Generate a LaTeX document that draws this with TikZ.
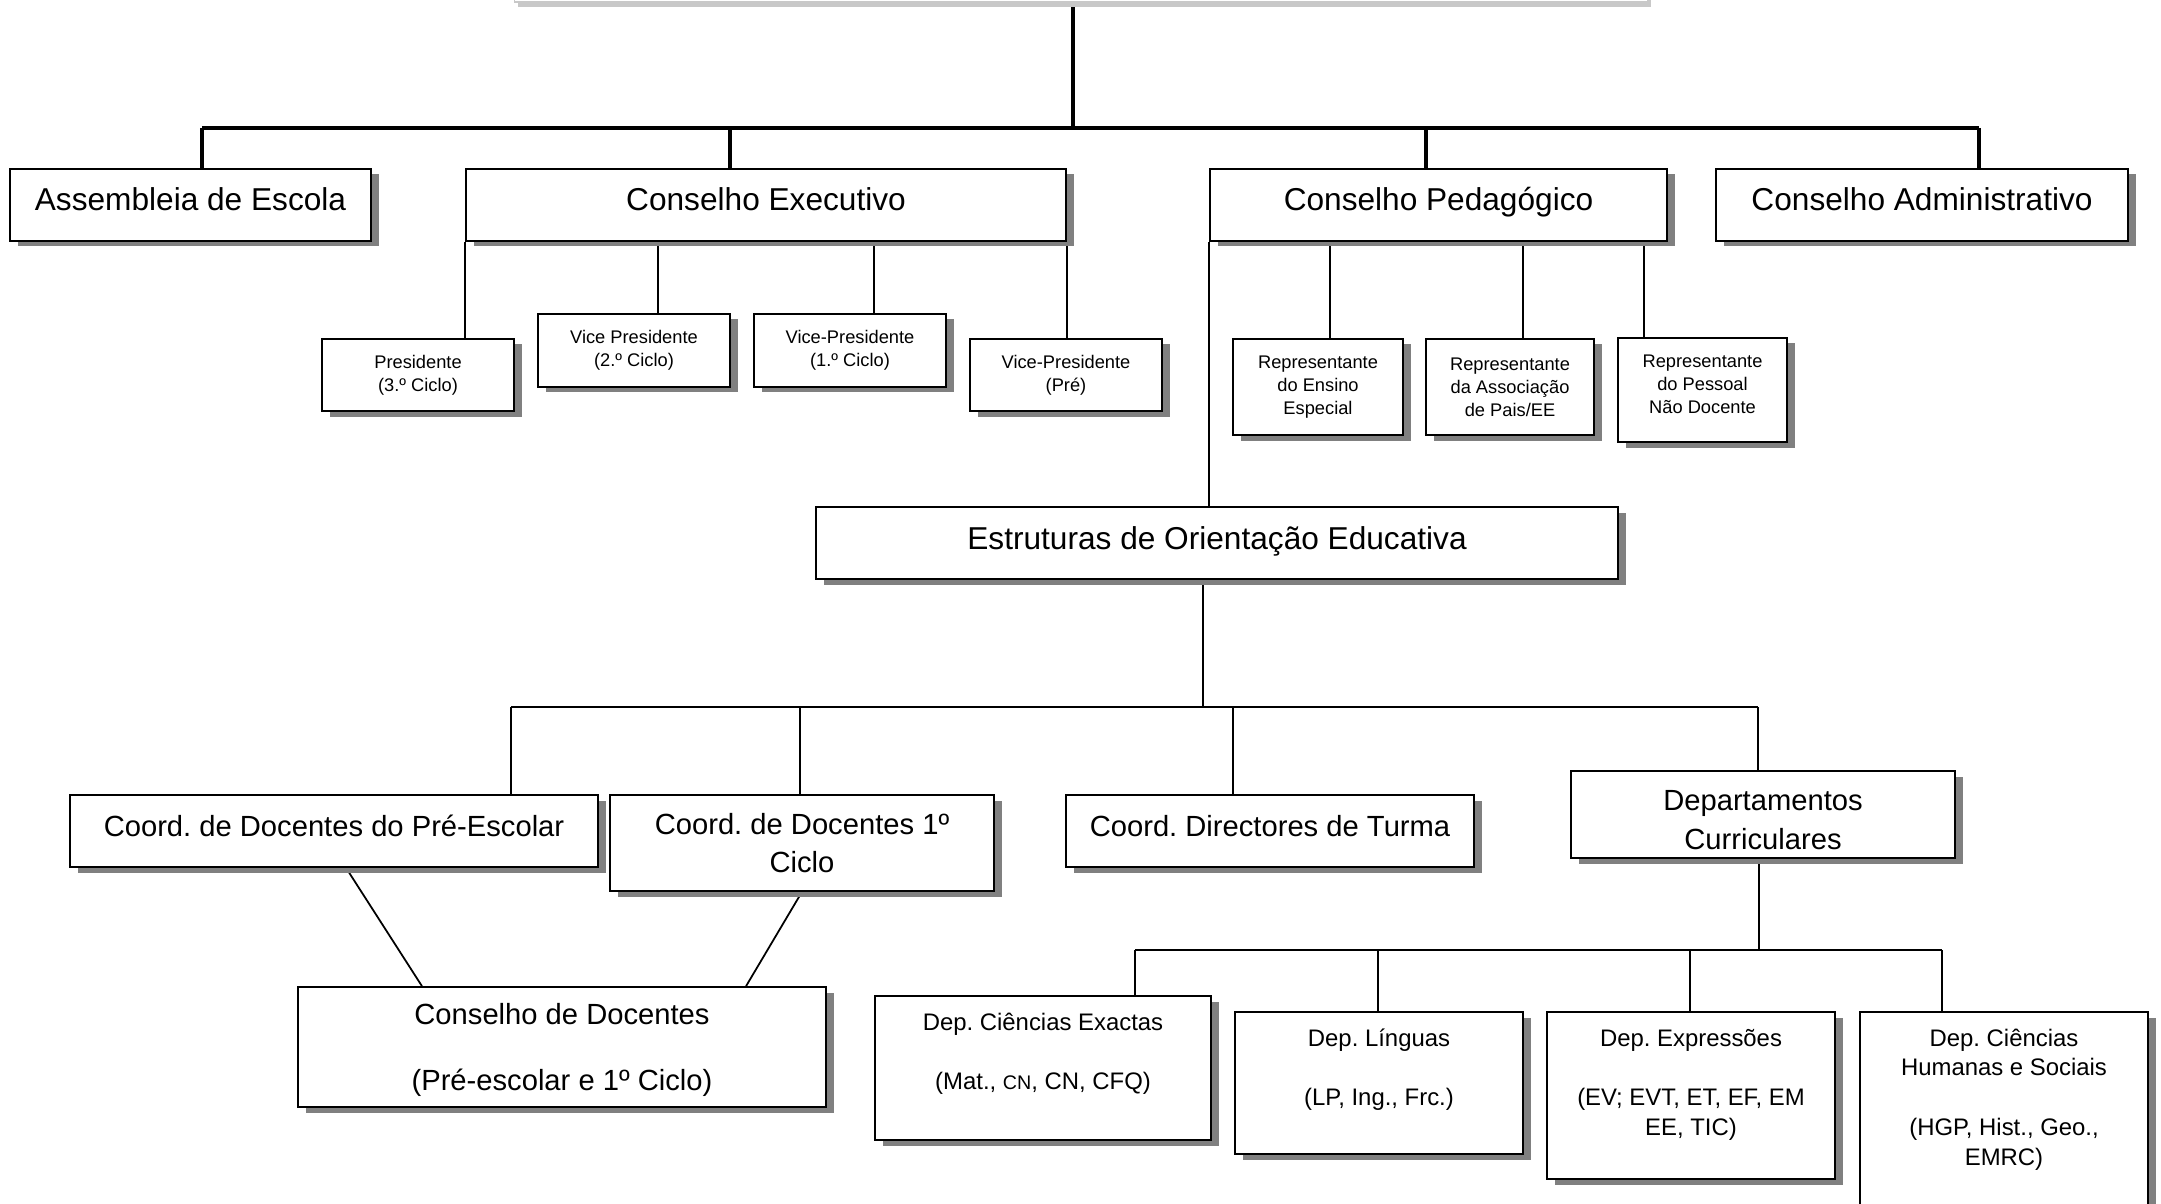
\documentclass[tikz,border=0pt]{standalone}
\usepackage{fontspec}
\setmainfont{Liberation Sans}
\usetikzlibrary{shadows,backgrounds}
\definecolor{shadowgray}{RGB}{128,128,128}
\definecolor{fadegray}{RGB}{200,200,200}
\frenchspacing
\newcommand{\orgbig}{\fontsize{9}{11}\selectfont}
\newcommand{\orgmid}{\fontsize{8.3}{11}\selectfont}
\newcommand{\orgdep}{\fontsize{6.8}{8.5}\selectfont}
\newcommand{\orgsmall}{\fontsize{5.2}{6.5}\selectfont}
\newcommand{\deptext}[3]{\parbox[c][#2][t]{#1}{\centering\rule{0pt}{3.4mm}#3}}

\begin{document}
\begin{tikzpicture}[x=0.1mm, y=-0.1mm,
    box/.style={draw, fill=white, line width=0.45pt, inner sep=0pt,
        drop shadow={shadow xshift=0.8mm, shadow yshift=-0.55mm, fill=shadowgray, opacity=1}},
    topbox/.style={box, font=\orgbig, minimum height=7.2mm, text height=2.4mm, text depth=1.2mm},
    midline/.style={box, font=\orgmid, minimum height=7.2mm, text height=2.2mm, text depth=1.1mm},
    midbox/.style={box, font=\orgmid, align=center},
    smallbox/.style={box, font=\orgsmall, align=center, minimum width=19.2mm},
    repbox/.style={box, font=\orgsmall, align=center},
    depbox/.style={box, font=\orgdep},
    mainlink/.style={line width=1.1pt},
    midlink/.style={line width=0.6pt},
    link/.style={line width=0.5pt}]
    \useasboundingbox (0,0) rectangle (2161,1203);

    % Top (cut off)
    \node[draw=fadegray, fill=white, line width=0.4pt, minimum width=113.3mm, minimum height=6mm, inner sep=0pt,
        drop shadow={shadow xshift=0.3mm, shadow yshift=-0.55mm, fill=fadegray, opacity=1}] (top) at (1081,-28) {};

    % First level
    \node[topbox, minimum width=36.1mm] (asm) at (190.5,205) {Assembleia de Escola};
    \node[topbox, minimum width=60mm] (cex) at (766,205) {Conselho Executivo};
    \node[topbox, minimum width=45.7mm] (cped) at (1438.5,205) {Conselho Pedagógico};
    \node[topbox, minimum width=41.2mm] (cadm) at (1922,205) {Conselho Administrativo};

    % Conselho Executivo
    \node[smallbox, minimum height=7.2mm] (pres) at (418,375) {Presidente\\(3.º Ciclo)};
    \node[smallbox, minimum height=7.3mm] (vp2) at (634,350.5) {Vice Presidente\\(2.º Ciclo)};
    \node[smallbox, minimum height=7.3mm] (vp1) at (850,350.5) {Vice-Presidente\\(1.º Ciclo)};
    \node[smallbox, minimum height=7.2mm] (vpp) at (1066,375) {Vice-Presidente\\(Pré)};

    % Conselho Pedagogico
    \node[repbox, minimum width=17mm, minimum height=9.6mm] (rep1) at (1318,387) {Representante\\do Ensino\\Especial};
    \node[repbox, minimum width=16.8mm, minimum height=9.6mm] (rep2) at (1510,387) {Representante\\da Associação\\de Pais/EE};
    \node[repbox, minimum width=16.9mm, minimum height=10.4mm, text depth=1.1mm] (rep3) at (1702.5,390) {Representante\\do Pessoal\\Não Docente};

    % Orientacao Educativa
    \node[topbox, minimum width=80.2mm] (eoe) at (1217,543) {Estruturas de Orientação Educativa};

    \node[midline, minimum width=52.8mm] (cpre) at (334,831) {Coord. de Docentes do Pré-Escolar};
    \node[midbox, minimum width=38.4mm, minimum height=9.6mm] (c1) at (802,843) {Coord. de Docentes 1º\\Ciclo};
    \node[midline, minimum width=40.8mm] (cdt) at (1270,831) {Coord. Directores de Turma};
    \node[midbox, minimum width=38.4mm, minimum height=8.7mm, text height=7mm] (dcur) at (1763,814.5) {Departamentos\\Curriculares};

    \node[midbox, minimum width=52.8mm, minimum height=12mm, text height=9.4mm] (cdoc) at (562,1047) {Conselho de Docentes\\[8pt](Pré-escolar e 1º Ciclo)};

    % Departamentos
    \node[depbox] (dce) at (1043,1068) {\deptext{33.6mm}{14.4mm}{Dep. Ciências Exactas\\[8.5pt](Mat., {\fontsize{5.6}{8.5}\selectfont CN}, CN, CFQ)}};
    \node[depbox] (dl) at (1379,1083) {\deptext{28.8mm}{14.2mm}{Dep. Línguas\\[8.5pt](LP, Ing., Frc.)}};
    \node[depbox] (dex) at (1691,1095.5) {\deptext{28.8mm}{16.7mm}{Dep. Expressões\\[8.5pt](EV; EVT, ET, EF, EM\\EE, TIC)}};
    \node[depbox] (dch) at (2004,1111) {\deptext{28.8mm}{19.8mm}{Dep. Ciências\\Humanas e Sociais\\[8.5pt](HGP, Hist., Geo.,\\EMRC)}};

    % Lines
    \begin{scope}[on background layer]
        \coordinate (bus1) at (1073,128);
        \coordinate (bus1l) at (202,128);
        \coordinate (bus1r) at (1979,128);
        \draw[mainlink] (top.south -| bus1) -- (bus1);
        \draw[mainlink] (bus1l) -- (bus1r);
        \foreach \x/\n in {202/asm, 730/cex, 1426/cped, 1979/cadm}
            \draw[mainlink] (\x,128) -- (\n.north -| \x,0);

        \draw[link] (cex.south west) -- (cex.south west |- pres.north);
        \foreach \x/\n in {658/vp2, 874/vp1}
            \draw[link] (cex.south -| \x,0) -- (\n.north -| \x,0);
        \draw[link] (cex.south east) -- (cex.south east |- vpp.north);

        \foreach \x/\n in {1330/rep1, 1523/rep2, 1644/rep3}
            \draw[link] (cped.south -| \x,0) -- (\n.north -| \x,0);
        \draw[link] (cped.south west) -- (cped.south west |- eoe.north);

        \coordinate (bus2) at (1203,707);
        \coordinate (bus2l) at (511,707);
        \coordinate (bus2r) at (1758,707);
        \draw[link] (eoe.south -| bus2) -- (bus2);
        \draw[link] (bus2l) -- (bus2r);
        \foreach \x/\n in {511/cpre, 800/c1, 1233/cdt, 1758/dcur}
            \draw[link] (\x,707) -- (\n.north -| \x,0);

        \draw[link] (cpre.south -| 346,0) -- (cdoc.north -| 422,0);
        \draw[link] (c1.south) -- (cdoc.north -| 746,0);

        \coordinate (bus3) at (1759,950);
        \coordinate (bus3l) at (1135,950);
        \coordinate (bus3r) at (1942,950);
        \draw[link] (dcur.south -| bus3) -- (bus3);
        \draw[midlink] (bus3l) -- (bus3r);
        \foreach \x/\n in {1135/dce, 1378/dl, 1690/dex, 1942/dch}
            \draw[link] (\x,950) -- (\n.north -| \x,0);
    \end{scope}
\end{tikzpicture}
\end{document}
